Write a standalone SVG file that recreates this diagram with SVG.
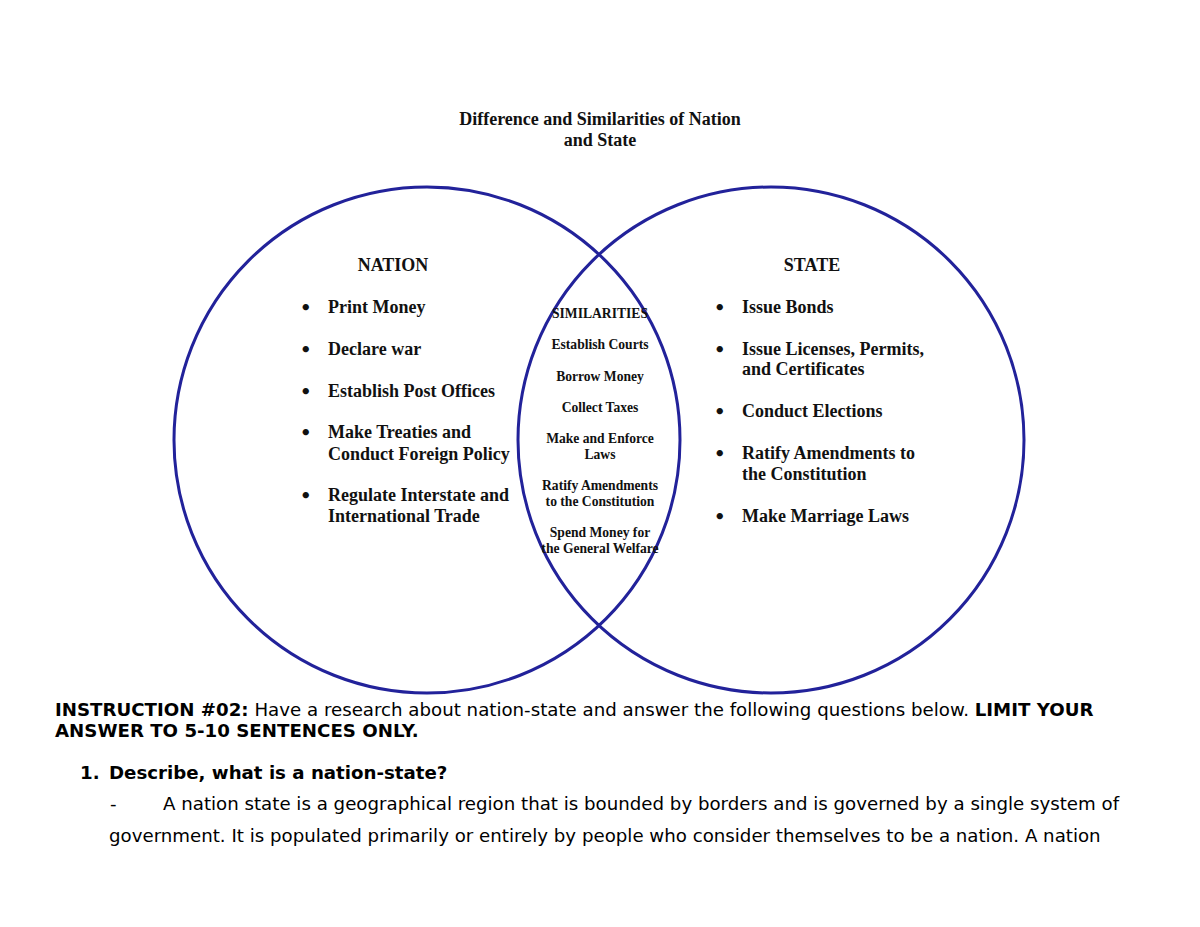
<svg xmlns="http://www.w3.org/2000/svg" width="1200" height="927" viewBox="0 0 1200 927">
<style>
.ring{fill:none;stroke:#22229a;stroke-width:3}
.t{font-family:"Liberation Serif","Times New Roman",serif;font-weight:bold;fill:#111}
.h{font-size:18px}
.s{font-size:13.6px}
.c{text-anchor:middle}
.d{font-family:"DejaVu Sans",sans-serif;font-size:18px}
.b{font-family:"DejaVu Sans",sans-serif;font-size:18.2px;fill:#000}
.bb{font-weight:bold}
</style>
<rect width="1200" height="927" fill="#fff"/>
<g id="title">
<text class="t h c" x="600" y="125">Difference and Similarities of Nation</text>
<text class="t h c" x="600" y="146">and State</text>
</g>
<g id="nation">
<circle class="ring" cx="427" cy="440" r="253"/>
<text class="t h c" x="393" y="271">NATION</text>
<g class="t h">
<text class="d" x="300" y="314">•</text><text x="328" y="313">Print Money</text>
<text class="d" x="300" y="356">•</text><text x="328" y="355">Declare war</text>
<text class="d" x="300" y="398">•</text><text x="328" y="397">Establish Post Offices</text>
<text class="d" x="300" y="439">•</text><text x="328" y="438">Make Treaties and</text>
<text x="328" y="460">Conduct Foreign Policy</text>
<text class="d" x="300" y="502">•</text><text x="328" y="501">Regulate Interstate and</text>
<text x="328" y="522">International Trade</text>
</g>
</g>
<g id="state">
<circle class="ring" cx="771" cy="440" r="253"/>
<text class="t h c" x="812" y="271">STATE</text>
<g class="t h">
<text class="d" x="714" y="314">•</text><text x="742" y="313">Issue Bonds</text>
<text class="d" x="714" y="356">•</text><text x="742" y="355">Issue Licenses, Permits,</text>
<text x="742" y="375">and Certificates</text>
<text class="d" x="714" y="418">•</text><text x="742" y="417">Conduct Elections</text>
<text class="d" x="714" y="460">•</text><text x="742" y="459">Ratify Amendments to</text>
<text x="742" y="480">the Constitution</text>
<text class="d" x="714" y="523">•</text><text x="742" y="522">Make Marriage Laws</text>
</g>
</g>
<g id="similarities" class="t s c">
<text x="600" y="318">SIMILARITIES</text>
<text x="600" y="349">Establish Courts</text>
<text x="600" y="381">Borrow Money</text>
<text x="600" y="412">Collect Taxes</text>
<text x="600" y="443">Make and Enforce</text>
<text x="600" y="459">Laws</text>
<text x="600" y="490">Ratify Amendments</text>
<text x="600" y="506">to the Constitution</text>
<text x="600" y="537">Spend Money for</text>
<text x="600" y="553">the General Welfare</text>
</g>
<g id="instructions" class="b">
<text x="55" y="716"><tspan class="bb">INSTRUCTION #02:</tspan> Have a research about nation-state and answer the following questions below. <tspan class="bb">LIMIT YOUR</tspan></text>
<text x="55" y="737" class="bb">ANSWER TO 5-10 SENTENCES ONLY.</text>
<text x="80" y="779" class="bb">1.</text>
<text x="109" y="779" class="bb">Describe, what is a nation-state?</text>
<text x="110" y="810">-</text>
<text x="163" y="810">A nation state is a geographical region that is bounded by borders and is governed by a single system of</text>
<text x="109" y="842">government. It is populated primarily or entirely by people who consider themselves to be a nation. A nation</text>
</g>
</svg>
